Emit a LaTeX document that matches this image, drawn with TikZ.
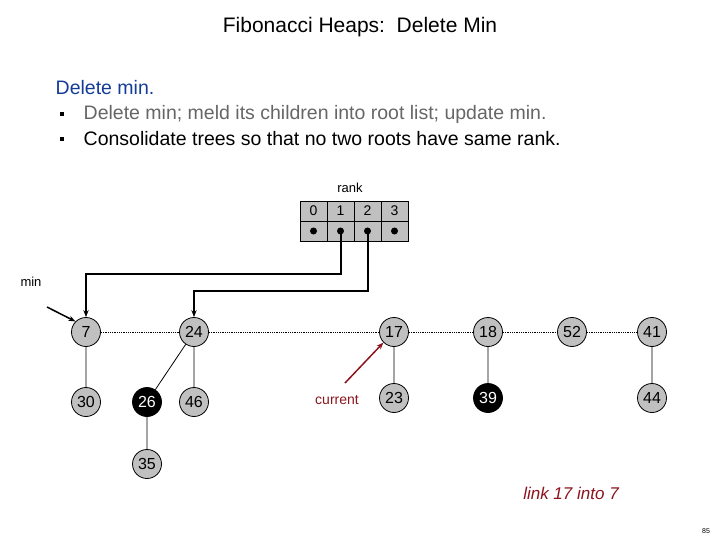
\documentclass[tikz,border=0pt]{standalone}
\usepackage{fontspec}
\setmainfont{Liberation Sans}
\usetikzlibrary{arrows.meta}
\definecolor{heapgray}{RGB}{192,192,192}
\definecolor{titleblue}{RGB}{20,60,150}
\definecolor{darkred}{RGB}{140,20,30}
\tikzset{
  key/.style={circle,draw,fill=heapgray,minimum size=29pt,inner sep=0pt,font=\fontsize{16}{16}\selectfont},
  marked/.style={key,fill=black,text=white},
  cell/.style={draw,fill=heapgray,minimum width=27pt,minimum height=20pt,inner sep=0pt,font=\fontsize{14}{14}\selectfont},
  ptr/.style={line width=2pt,-{Stealth[length=7pt]}},
  root/.style={densely dotted,line width=0.8pt}
}
\begin{document}
\begin{tikzpicture}[x=1pt,y=-1pt,line width=0.8pt]
  \useasboundingbox (0,0) rectangle (720,540);
  \node[font=\fontsize{21}{21}\selectfont] (title) at (360,27) {Fibonacci Heaps:\ \ Delete Min};
  \node[anchor=west,text=titleblue,font=\fontsize{19.5}{19.5}\selectfont] (head) at (52,88) {Delete min.};
  \node[anchor=west,text=black!60,font=\fontsize{19.5}{19.5}\selectfont] (b1) at (80,114) {Delete min; meld its children into root list; update min.};
  \node[anchor=west,font=\fontsize{19.5}{19.5}\selectfont] (b2) at (80,139) {Consolidate trees so that no two roots have same rank.};
  \fill (60,112) rectangle (64,116);
  \fill (60,137) rectangle (64,141);
  % rank table
  \node[font=\fontsize{13}{13}\selectfont] (rank) at (350,188) {rank};
  \foreach \i in {0,...,3} {
    \node[cell] (c\i) at (313.5+27*\i,211) {\i};
    \node[cell] (p\i) at (313.5+27*\i,231) {};
    \fill (p\i) circle (3.5pt);
  }
  % roots
  \node[key] (n7) at (86,332) {7};
  \node[key] (n24) at (194,332) {24};
  \node[key] (n17) at (394,332) {17};
  \node[key] (n18) at (488,332) {18};
  \node[key] (n52) at (572,332) {52};
  \node[key] (n41) at (652,332) {41};
  \node[key] (n30) at (86,402) {30};
  \node[marked] (n26) at (147,402) {26};
  \node[key] (n46) at (194,402) {46};
  \node[key] (n35) at (147,464) {35};
  \node[key] (n23) at (394,398) {23};
  \node[marked] (n39) at (488,398) {39};
  \node[key] (n44) at (652,398) {44};
  \draw[root] (n7) -- (n24) -- (n17) -- (n18) -- (n52) -- (n41);
  \draw (n7) -- (n30) (n24) -- (n26) (n24) -- (n46) (n26) -- (n35)
        (n17) -- (n23) (n18) -- (n39) (n41) -- (n44);
  % pointers
  \draw[ptr] (p1.center) |- (86,274) -- (n7);
  \draw[ptr] (p2.center) |- (194,291) -- (n24);
  \node[font=\fontsize{13}{13}\selectfont] (minlbl) at (31,282) {min};
  \coordinate (mintail) at (47,307);
  \draw[line width=1.5pt,-{Stealth[length=7pt]}] (mintail) -- (n7.north west);
  \node[text=darkred,font=\fontsize{14}{14}\selectfont] (cur) at (337,400) {current};
  \coordinate (curtail) at (345,383);
  \draw[darkred,line width=1.5pt,-{Stealth[length=7pt]}] (curtail) -- (n17.south west);
  \node[text=darkred,font=\itshape\fontsize{17}{17}\selectfont] (note) at (571,493) {link 17 into 7};
  \node[font=\fontsize{7}{7}\selectfont] (page) at (706,531) {85};
\end{tikzpicture}
\end{document}
